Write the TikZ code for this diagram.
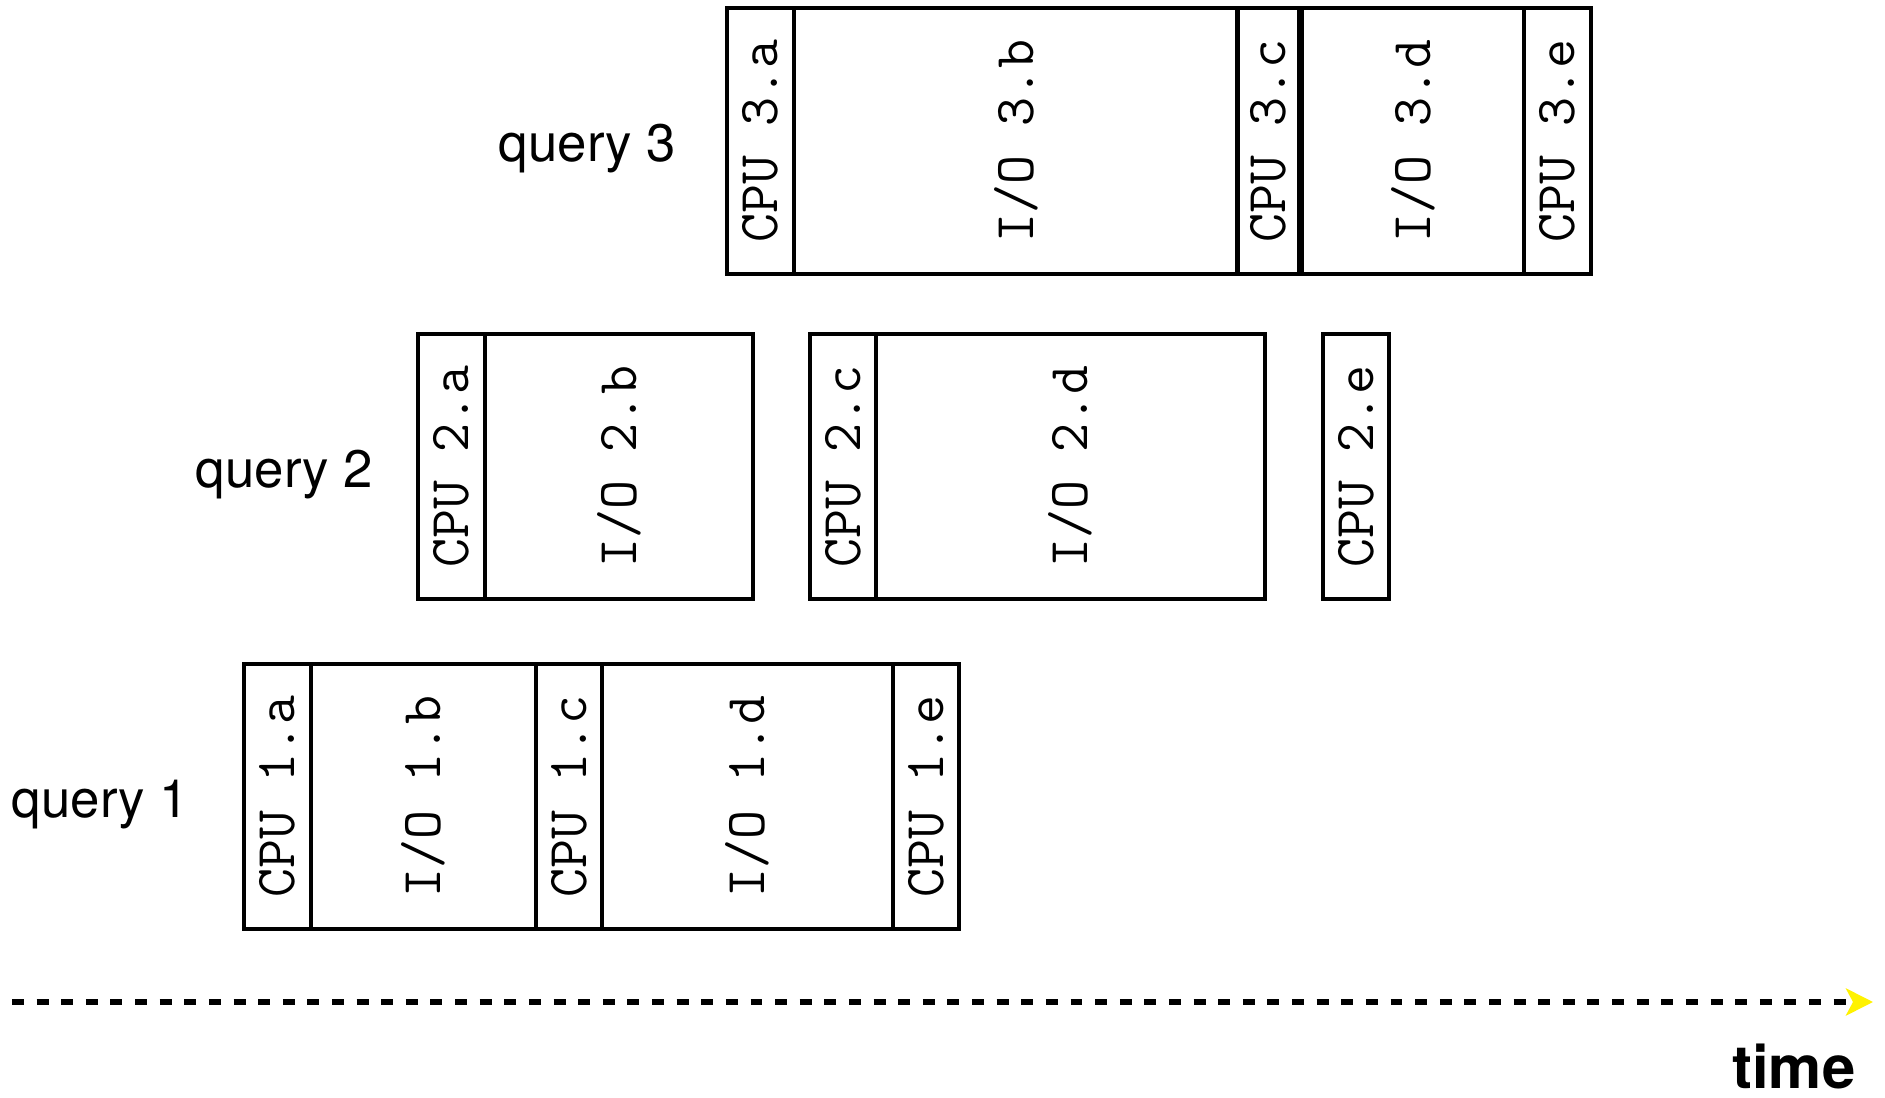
\documentclass[tikz,border=0pt]{standalone}
\usepackage{fontspec}
\setsansfont{TeX Gyre Heros}
\usetikzlibrary{arrows.meta}
\definecolor{ink}{HTML}{000000}
\definecolor{tYellow}{HTML}{FFF200}
\tikzset{
  blk/.style={draw=ink, line width=1.15pt, rotate=90, inner sep=0pt, minimum width=2.65cm,
    font=\ttfamily\fontsize{16}{19}\selectfont, text=ink},
  qlbl/.style={font=\sffamily\fontsize{15}{18}\selectfont, anchor=base east, inner sep=0pt, text=ink},
}

\begin{document}
\begin{tikzpicture}[x=0.01cm, y=-0.01cm]
\useasboundingbox (0,0) rectangle (1885,1098);
% query 3
\foreach \nm/\cx/\w/\txt in {q3a/760.5/0.67/{CPU 3.a}, q3b/1016/4.44/{I/O 3.b}, q3c/1268/0.61/{CPU 3.c},
  q3d/1413/2.22/{I/O 3.d}, q3e/1557.5/0.67/{CPU 3.e}}
  \node[blk, minimum height=\w cm] (\nm) at (\cx,141) {\txt};
\node[qlbl] (lq3) at (677,162) {query 3};
% query 2
\foreach \nm/\cx/\w/\txt in {q2a/451.5/0.67/{CPU 2.a}, q2b/619/2.68/{I/O 2.b}, q2c/843/0.66/{CPU 2.c},
  q2d/1070.5/3.89/{I/O 2.d}, q2e/1356/0.66/{CPU 2.e}}
  \node[blk, minimum height=\w cm] (\nm) at (\cx,466.5) {\txt};
\node[qlbl] (lq2) at (374,488) {query 2};
% query 1
\foreach \nm/\cx/\w/\txt in {q1a/277.5/0.67/{CPU 1.a}, q1b/423.5/2.25/{I/O 1.b}, q1c/569/0.66/{CPU 1.c},
  q1d/747.5/2.91/{I/O 1.d}, q1e/926/0.66/{CPU 1.e}}
  \node[blk, minimum height=\w cm] (\nm) at (\cx,796.5) {\txt};
\node[qlbl] (lq1) at (190,818) {query 1};
% time axis
\coordinate (t0) at (12,1002);
\coordinate (t1) at (1873,1002);
\draw[ink, line width=1.7pt, dash pattern=on 3.4pt off 3.6pt,
  -{Stealth[length=0.27cm, width=0.27cm, inset=0.07cm, color=tYellow]}] (t0) -- (t1);
\node[font=\sffamily\bfseries\fontsize{17}{20}\selectfont, anchor=base east, inner sep=0pt] (tm) at (1856,1088) {time};
\end{tikzpicture}
\end{document}
